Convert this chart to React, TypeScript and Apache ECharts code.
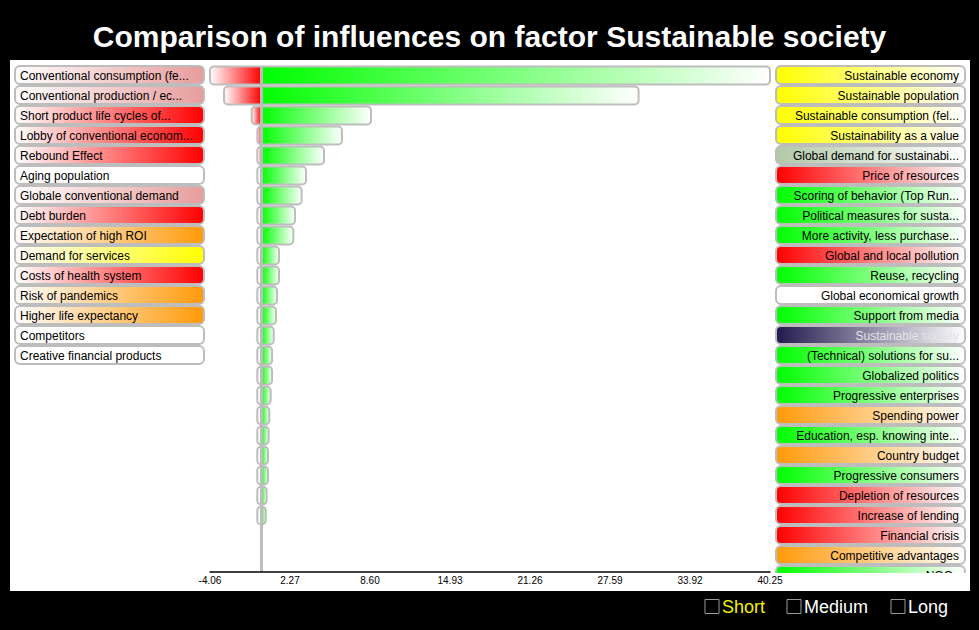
import React, { useEffect, useRef } from "react";
import * as echarts from "echarts";

const TITLE = "Comparison of influences on factor Sustainable society";

// Ranked influence rows: negative part and positive part of each bar
const ranks = [1, 2, 3, 4, 5, 6, 7, 8, 9, 10, 11, 12, 13, 14, 15, 16, 17, 18, 19, 20, 21, 22, 23];
const negValues = [-4.06, -2.95, -0.76, -0.3, -0.2, 0, 0, 0, 0, 0, 0, 0, 0, 0, 0, 0, 0, 0, 0, 0, 0, 0, 0];
const posValues = [40.25, 29.85, 8.68, 6.38, 4.96, 3.54, 3.19, 2.67, 2.53, 1.4, 1.4, 1.24, 1.16, 0.98, 0.85, 0.85, 0.74, 0.63, 0.58, 0.53, 0.53, 0.42, 0.35];

const tickValues = [-4.06, 2.27, 8.6, 14.93, 21.26, 27.59, 33.92, 40.25];
const axisMin = -4.06;
const axisMax = 40.25;

const leftLabels = [
  "Conventional consumption (fe...",
  "Conventional production / ec...",
  "Short product life cycles of...",
  "Lobby of conventional econom...",
  "Rebound Effect",
  "Aging population",
  "Globale conventional demand",
  "Debt burden",
  "Expectation of high ROI",
  "Demand for services",
  "Costs of health system",
  "Risk of pandemics",
  "Higher life expectancy",
  "Competitors",
  "Creative financial products",
];
const leftKinds = [
  "pink", "pink", "red", "red", "red", "white", "pink", "red", "orange", "yellow", "red", "orange", "orange", "white", "white",
];

const rightLabels = [
  "Sustainable economy",
  "Sustainable population",
  "Sustainable consumption (fel...",
  "Sustainability as a value",
  "Global demand for sustainabi...",
  "Price of resources",
  "Scoring of behavior (Top Run...",
  "Political measures for susta...",
  "More activity, less purchase...",
  "Global and local pollution",
  "Reuse, recycling",
  "Global economical growth",
  "Support from media",
  "Sustainable society",
  "(Technical) solutions for su...",
  "Globalized politics",
  "Progressive enterprises",
  "Spending power",
  "Education, esp. knowing inte...",
  "Country budget",
  "Progressive consumers",
  "Depletion of resources",
  "Increase of lending",
  "Financial crisis",
  "Competitive advantages",
  "NGOs",
];
const rightKinds = [
  "yellow", "yellow", "yellow", "yellow", "sage", "red", "green", "green", "green", "red", "green", "white", "green", "navy",
  "green", "green", "green", "orange", "green", "orange", "green", "red", "red", "red", "orange", "green",
];

const legendItems = ["Short", "Medium", "Long"];

const KIND_COLORS: Record<string, string> = {
  pink: "#e89c9c",
  red: "#ff0000",
  white: "#ffffff",
  orange: "#ff9a0a",
  yellow: "#ffff00",
  green: "#00ff00",
  sage: "#b2c8a8",
  navy: "#221a4e",
};

const FONT = "'Liberation Sans', Arial, Helvetica, sans-serif";

function grad(from: string, to: string) {
  return {
    type: "linear",
    x: 0,
    y: 0,
    x2: 1,
    y2: 0,
    colorStops: [
      { offset: 0, color: from },
      { offset: 1, color: to },
    ],
  };
}

export default function App() {
  const ref = useRef<HTMLDivElement>(null);

  useEffect(() => {
    if (!ref.current) return;
    const chart = echarts.init(ref.current, null, { renderer: "svg" });

    const data = ranks.map((r, i) => [r, negValues[i], posValues[i]]);

    const graphics: any[] = [];
    // white panel
    graphics.push({
      type: "rect",
      z: -100,
      shape: { x: 10, y: 60, width: 960, height: 531 },
      style: { fill: "#ffffff" },
      silent: true,
    });

    const rowH = 20;
    const top0 = 66;
    leftLabels.forEach((t, i) => {
      const y = top0 + i * rowH;
      const c = KIND_COLORS[leftKinds[i]];
      graphics.push({
        type: "rect",
        z: 1,
        shape: { x: 15, y: y, width: 189, height: 18, r: 5 },
        style: { fill: grad("#ffffff", c), stroke: "#bdbdbd", lineWidth: 2 },
        silent: true,
      });
      graphics.push({
        type: "text",
        z: 1,
        x: 20,
        y: y + 9.5,
        style: {
          text: t,
          fill: "#000",
          font: `12px ${FONT}`,
          align: "left",
          textAlign: "left",
          verticalAlign: "middle",
          textVerticalAlign: "middle",
        },
        silent: true,
      });
    });

    rightLabels.forEach((t, i) => {
      const y = top0 + i * rowH;
      const kind = rightKinds[i];
      const c = KIND_COLORS[kind];
      graphics.push({
        type: "rect",
        z: 1,
        shape: { x: 776, y: y, width: 189, height: 18, r: 5 },
        style: { fill: grad(c, "#ffffff"), stroke: "#bdbdbd", lineWidth: 2 },
        silent: true,
      });
      graphics.push({
        type: "text",
        z: 1,
        x: 959,
        y: y + 9.5,
        style: {
          text: t,
          fill: kind === "navy" ? "#e4e4e4" : "#000",
          font: `12px ${FONT}`,
          align: "right",
          textAlign: "right",
          verticalAlign: "middle",
          textVerticalAlign: "middle",
        },
        silent: true,
      });
    });

    // clip the label list at the axis line
    graphics.push({
      type: "rect",
      z: 2,
      shape: { x: 771, y: 573, width: 199, height: 18 },
      style: { fill: "#ffffff" },
      silent: true,
    });

    // legend at bottom
    const legendPos = [705, 787, 891];
    legendItems.forEach((t, i) => {
      const x = legendPos[i];
      graphics.push({
        type: "rect",
        z: 3,
        shape: { x: x, y: 599.5, width: 14, height: 14 },
        style: { fill: "none", stroke: "#9a9a9a", lineWidth: 1 },
        silent: true,
      });
      graphics.push({
        type: "text",
        z: 3,
        x: x + 17,
        y: 607,
        style: {
          text: t,
          fill: i === 0 ? "#f2f200" : "#ffffff",
          font: `18px ${FONT}`,
          align: "left",
          textAlign: "left",
          verticalAlign: "middle",
          textVerticalAlign: "middle",
        },
        silent: true,
      });
    });

    const option: any = {
      animation: false,
      backgroundColor: "#000000",
      title: {
        text: TITLE,
        left: "center",
        top: 16,
        textStyle: { color: "#ffffff", fontSize: 30, fontWeight: "bold", fontFamily: FONT },
      },
      grid: { left: 210, right: 209, top: 66, bottom: 58, containLabel: false },
      xAxis: {
        type: "value",
        min: axisMin,
        max: axisMax,
        z: 10,
        splitLine: { show: false },
        axisTick: { show: false },
        axisLine: { show: true, onZero: false, lineStyle: { color: "#000", width: 1.5 } },
        axisLabel: {
          customValues: tickValues,
          color: "#000",
          fontSize: 10,
          fontFamily: FONT,
          margin: 3,
          formatter: (v: number) => v.toFixed(2),
        },
      },
      yAxis: {
        type: "value",
        inverse: true,
        min: 0.5,
        max: 25.8,
        show: false,
        splitLine: { show: false },
      },
      graphic: graphics,
      series: [
        {
          type: "custom",
          data: data,
          encode: { x: [1, 2], y: 0 },
          renderItem: (params: any, api: any) => {
            const r = api.value(0);
            const n = api.value(1);
            const p = api.value(2);
            const z = api.coord([0, r]);
            const a = api.coord([n, r]);
            const b = api.coord([p, r]);
            const h = 18;
            const y = z[1] - 9.5;
            const left = Math.min(a[0], z[0] - 4);
            const right = Math.max(b[0], z[0] + 4);
            const children: any[] = [];
            if (z[0] - a[0] > 0.5) {
              children.push({
                type: "rect",
                shape: { x: a[0], y: y, width: z[0] - a[0], height: h, r: [4, 0, 0, 4] },
                style: { fill: new echarts.graphic.LinearGradient(0, 0, 1, 0, [
                  { offset: 0, color: "#ffffff" },
                  { offset: 1, color: "#ff0000" },
                ]) },
              });
            }
            children.push({
              type: "rect",
              shape: { x: z[0], y: y, width: b[0] - z[0], height: h, r: [0, 4, 4, 0] },
              style: { fill: new echarts.graphic.LinearGradient(0, 0, 1, 0, [
                { offset: 0, color: "#00ff00" },
                { offset: 1, color: "#ffffff" },
              ]) },
            });
            children.push({
              type: "rect",
              shape: { x: left, y: y, width: right - left, height: h, r: 4 },
              style: { fill: "none", stroke: "#bdbdbd", lineWidth: 2 },
            });
            return { type: "group", children };
          },
          markLine: {
            silent: true,
            symbol: ["none", "none"],
            label: { show: false },
            lineStyle: { color: "#bdbdbd", width: 3, type: "solid" },
            emphasis: { disabled: true },
            data: [{ xAxis: 0 }],
          },
        },
      ],
    };

    chart.setOption(option);
    return () => chart.dispose();
  }, []);

  return (
    <div
      ref={ref}
      style={{ position: "fixed", left: 0, top: 0, width: 979, height: 630 }}
    />
  );
}
